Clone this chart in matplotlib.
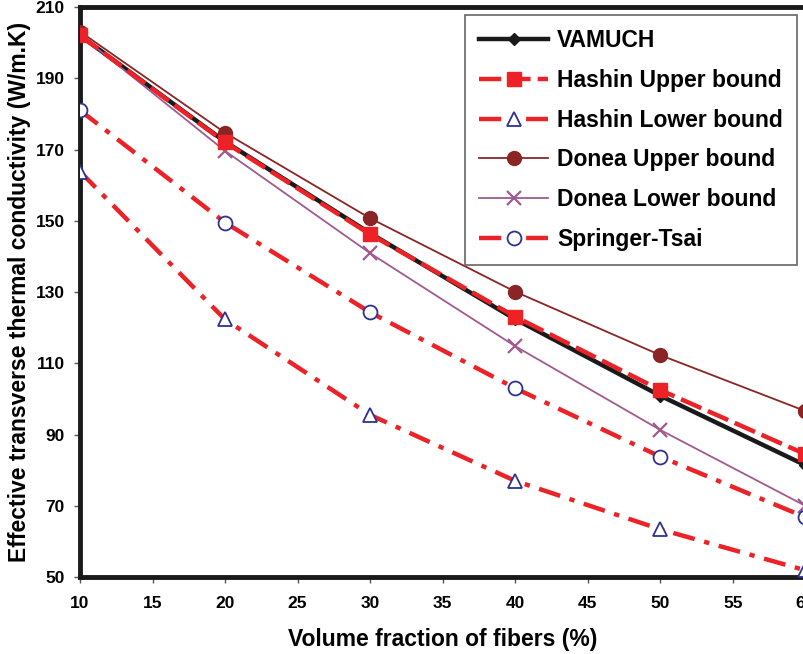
import matplotlib
matplotlib.use('Agg')
import matplotlib.pyplot as plt

plt.rcParams['font.family'] = ['Liberation Sans', 'DejaVu Sans']
plt.rcParams['font.weight'] = 'bold'

# volume fraction (%) and effective conductivity (W/m.K)
fraction = [10, 20, 30, 40, 50, 60]
vamuch = [202.0, 172.2, 146.5, 122.4, 100.9, 81.4]
hashin_upper = [202.0, 172.0, 146.2, 123.1, 102.5, 84.5]
hashin_lower = [163.8, 122.3, 95.5, 77.0, 63.4, 51.9]
donea_upper = [203.1, 174.7, 150.7, 130.1, 112.3, 96.6]
donea_lower = [202.2, 169.6, 140.9, 114.8, 91.3, 70.0]
springer_tsai = [181.0, 149.5, 124.3, 103.0, 83.8, 66.8]

red = '#ec2227'
blue = '#2e3192'

fig = plt.figure(figsize=(8.04, 6.54), dpi=100)
ax = fig.add_axes([0.0995, 0.1177, 0.902, 0.8716])

ax.plot(fraction, vamuch, color='#1a1a1a', lw=3.2, marker='D', ms=6,
        label='VAMUCH', zorder=3)
ax.plot(fraction, hashin_upper, color=red, lw=3.2, dashes=(5, 1.6),
        marker='s', ms=10, label='Hashin Upper bound', zorder=4)
ax.plot(fraction, hashin_lower, color=red, lw=3.2, dashes=(5, 2.2, 1.2, 2.2),
        marker='^', ms=10, mfc='white', mec=blue, mew=1.3,
        label='Hashin Lower bound', zorder=4)
ax.plot(fraction, donea_upper, color='#8b2424', lw=1.3, marker='o', ms=10,
        label='Donea Upper bound', zorder=3)
ax.plot(fraction, donea_lower, color='#a05a8f', lw=1.3, marker='x', ms=10,
        mew=1.6, label='Donea Lower bound', zorder=3)
ax.plot(fraction, springer_tsai, color=red, lw=3.2, dashes=(5, 2.2, 1.2, 2.2),
        marker='o', ms=10, mfc='white', mec=blue, mew=1.3,
        label='Springer-Tsai', zorder=4)

ax.set_xlim(10, 60)
ax.set_ylim(50, 210)
ax.set_xticks(range(10, 61, 5))
ax.set_yticks(range(50, 211, 20))
ax.tick_params(axis='both', direction='out', length=4, width=1,
               color='#555555', labelsize=12.5, pad=7)
ax.tick_params(axis='x', pad=10)
for s in ['left', 'bottom', 'top']:
    ax.spines[s].set_linewidth(3.5)
    ax.spines[s].set_color('#1a1a1a')
ax.spines['right'].set_visible(False)

ax.set_xlabel('Volume fraction of fibers (%)', fontsize=16.5, fontweight='bold',
              labelpad=12)
ax.set_ylabel('Effective transverse thermal conductivity (W/m.K)', fontsize=16.5,
              fontweight='bold', labelpad=3)

leg = ax.legend(loc='upper right', bbox_to_anchor=(0.989, 0.986),
                borderaxespad=0, prop={'size': 16.5, 'weight': 'bold'},
                handlelength=3.0, handletextpad=0.4, labelspacing=0.73,
                borderpad=0.62, fancybox=False, framealpha=1,
                edgecolor='#666666')
leg.get_frame().set_linewidth(1.2)

fig.savefig('out.png', dpi=100)
